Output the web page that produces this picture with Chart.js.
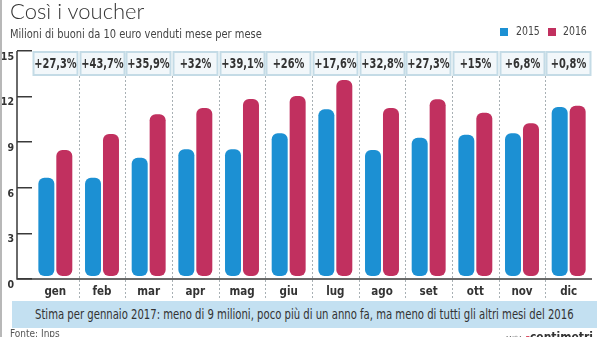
<!DOCTYPE html>
<html>
<head>
<meta charset="utf-8">
<script src="https://cdn.jsdelivr.net/npm/chart.js@4/dist/chart.umd.min.js"></script>
<style>
    html, body { margin: 0; padding: 0; background: #fff; }
    #wrap { position: relative; width: 600px; height: 337px; overflow: hidden; background: #fff; }
    #chart { position: absolute; left: 0; top: 0; }
    .narrow { font-family: "DejaVu Sans Condensed", "Liberation Sans Narrow", "Arial Narrow", sans-serif; white-space: nowrap; }
    .squeeze { display: inline-block; transform-origin: left center; }
    #edge { position: absolute; left: 0; top: 0; width: 2px; height: 337px; background: #b8b8b8; }
    #title { position: absolute; left: 10px; top: -3px; font-family: Lato, "Liberation Sans", sans-serif; font-weight: 300; font-size: 22px; color: #333; }
    #subtitle { position: absolute; left: 10px; top: 26px; font-size: 12.5px; color: #444; }
    #subtitle .squeeze { transform: scaleX(0.88); }
    #legend { position: absolute; left: 500px; top: 23px; font-size: 13px; color: #444; }
    #legend i { position: absolute; top: 5px; width: 8px; height: 8px; }
    #legend span { position: absolute; top: 0; transform: scaleX(0.8); transform-origin: left center; }
    #band { position: absolute; left: 12px; top: 301px; width: 585px; height: 27px; line-height: 27px; background: #c3e0f1; font-size: 13.5px; color: #333; }
    #band .squeeze { position: absolute; left: 23px; transform: scaleX(0.83); }
    #source { position: absolute; left: 10px; top: 328px; font-size: 10px; color: #555; }
    #logo { position: absolute; left: 505px; top: 326px; color: #444; }
    #logo small { font-size: 7px; color: #666; margin-right: 3px; }
    #logo b { font-size: 12px; color: #333; }
    #logo b em { font-style: normal; color: #d0203a; }
</style>
</head>
<body>
<div id="wrap">
    <canvas id="chart" width="600" height="337"></canvas>
    <div id="edge"></div>
    <div id="title">Così i voucher</div>
    <div id="subtitle" class="narrow"><span class="squeeze">Milioni di buoni da 10 euro venduti mese per mese</span></div>
    <div id="legend" class="narrow">
        <i style="left:0;background:#1c90d3"></i><span style="left:16px">2015</span>
        <i style="left:48px;background:#c1305f"></i><span style="left:63px">2016</span>
    </div>
    <div id="band" class="narrow"><span class="squeeze">Stima per gennaio 2017: meno di 9 milioni, poco più di un anno fa, ma meno di tutti gli altri mesi del 2016</span></div>
    <div id="source" class="narrow">Fonte: Inps</div>
    <div id="logo" class="narrow"><small>ANSA</small><b><em>-</em>centimetri</b></div>
</div>
<script>
// Voucher sold per month (millions)
const months = ['gen', 'feb', 'mar', 'apr', 'mag', 'giu', 'lug', 'ago', 'set', 'ott', 'nov', 'dic'];
const vouchers2015 = [6.66, 6.66, 7.98, 8.53, 8.53, 9.59, 11.16, 8.49, 9.30, 9.49, 9.59, 11.32];
const vouchers2016 = [8.49, 9.54, 10.84, 11.25, 11.84, 12.04, 13.09, 11.25, 11.82, 10.94, 10.24, 11.40];
const growthLabels = ['+27,3%', '+43,7%', '+35,9%', '+32%', '+39,1%', '+26%', '+17,6%', '+32,8%', '+27,3%', '+15%', '+6,8%', '+0,8%'];
const yMax = 15;
const yStep = 3;

const narrowFont = '"DejaVu Sans Condensed", "Liberation Sans Narrow", "Arial Narrow", sans-serif';

// Axis lines, month separators and growth boxes
const framePlugin = {
    id: 'voucherFrame',
    beforeDatasetsDraw(chart) {
        const { ctx, chartArea, scales } = chart;
        const x = scales.x;
        ctx.save();
        ctx.strokeStyle = '#a8b0b4';
        ctx.lineWidth = 1;
        ctx.setLineDash([2, 2]);
        for (let i = 1; i < months.length; i++) {
            const sx = Math.round((x.getPixelForValue(i - 1) + x.getPixelForValue(i)) / 2) + 0.5;
            ctx.beginPath();
            ctx.moveTo(sx, chartArea.top + 25);
            ctx.lineTo(sx, chartArea.bottom + 19);
            ctx.stroke();
        }
        ctx.restore();
    },
    afterDraw(chart) {
        const { ctx, chartArea, scales } = chart;
        const x = scales.x;
        const half = (x.getPixelForValue(1) - x.getPixelForValue(0)) / 2;
        ctx.save();

        // axes
        ctx.strokeStyle = '#3a3a3a';
        ctx.lineWidth = 1.5;
        ctx.beginPath();
        ctx.moveTo(chartArea.left - 15, chartArea.top);
        ctx.lineTo(chartArea.left - 15, chartArea.bottom);
        ctx.lineTo(chartArea.right, chartArea.bottom);
        ctx.stroke();

        // growth boxes
        ctx.font = 'bold 14px ' + narrowFont;
        ctx.textAlign = 'center';
        ctx.textBaseline = 'middle';
        growthLabels.forEach((label, i) => {
            const cx = x.getPixelForValue(i);
            const bx = Math.round(cx - half + 1) + 0.5;
            const bw = Math.round(half * 2 - 3);
            ctx.fillStyle = '#f2f7fa';
            ctx.strokeStyle = '#c4dbe6';
            ctx.lineWidth = 2;
            ctx.fillRect(bx, chartArea.top + 1, bw, 23);
            ctx.strokeRect(bx, chartArea.top + 1, bw, 23);
            ctx.save();
            ctx.translate(bx + bw / 2, chartArea.top + 13);
            ctx.scale(0.78, 1);
            ctx.fillStyle = '#333';
            ctx.fillText(label, 0, 0);
            ctx.restore();
        });
        ctx.restore();
    }
};

new Chart(document.getElementById('chart'), {
    type: 'bar',
    data: {
        labels: months,
        datasets: [{
            label: '2015',
            data: vouchers2015,
            backgroundColor: '#1c90d3',
            borderRadius: 6,
            borderSkipped: false,
            base: 0.2
        }, {
            label: '2016',
            data: vouchers2016,
            backgroundColor: '#c1305f',
            borderRadius: 6,
            borderSkipped: false,
            base: 0.2
        }]
    },
    options: {
        responsive: false,
        devicePixelRatio: 1,
        animation: false,
        categoryPercentage: 0.77,
        barPercentage: 0.89,
        layout: {
            padding: { top: 51, right: 8, left: 0, bottom: 0 }
        },
        plugins: {
            legend: { display: false },
            tooltip: { enabled: false }
        },
        scales: {
            x: {
                grid: { display: false, drawTicks: false },
                border: { display: false },
                ticks: {
                    color: '#333',
                    padding: 6,
                    font: { family: narrowFont, size: 11.5, weight: 'bold' }
                },
                afterFit: (scale) => { scale.height = 58; }
            },
            y: {
                min: 0,
                max: yMax,
                grid: {
                    drawOnChartArea: false,
                    drawTicks: true,
                    tickLength: 15,
                    color: '#3a3a3a',
                    lineWidth: 1.5
                },
                border: { display: false },
                ticks: {
                    stepSize: yStep,
                    color: '#333',
                    padding: 3,
                    labelOffset: 6,
                    font: { family: narrowFont, size: 10.5, weight: 'bold' }
                },
                afterFit: (scale) => { scale.width = 32; }
            }
        }
    },
    plugins: [framePlugin]
});
</script>
</body>
</html>
